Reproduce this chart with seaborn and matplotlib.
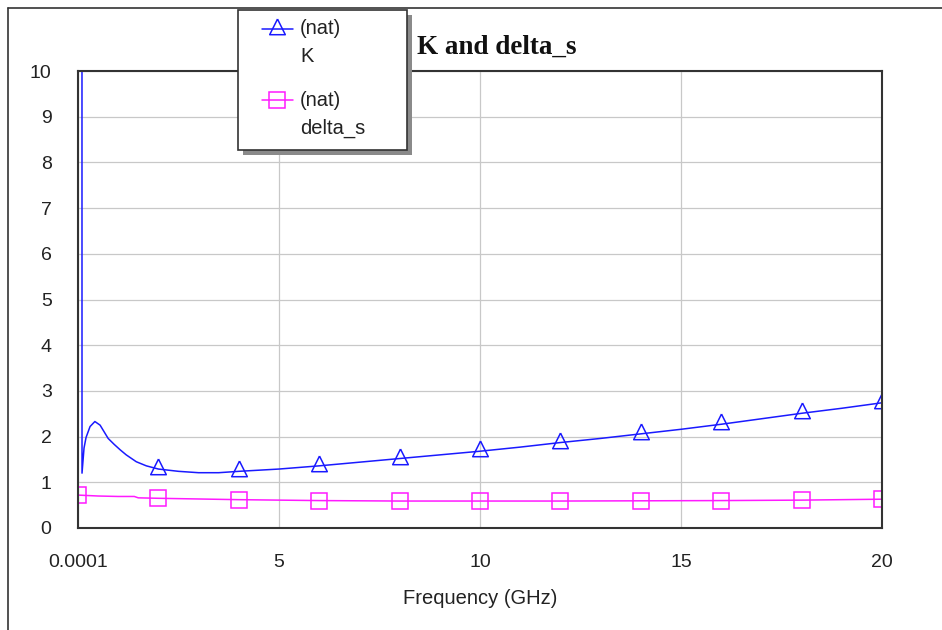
import numpy as np
import pandas as pd
import matplotlib
matplotlib.use("Agg")
import matplotlib.pyplot as plt
from matplotlib.lines import Line2D
from matplotlib.patches import Rectangle
import seaborn as sns

# Stability factor K versus frequency (GHz)
k_freq = [0.0001, 0.1, 0.15, 0.2, 0.3, 0.42, 0.55, 0.75, 0.9, 1.05, 1.2, 1.45,
          1.7, 2, 2.5, 3, 3.5, 4, 5, 6, 7, 8, 9, 10, 11, 12, 13, 14, 15, 16,
          17, 18, 19, 20]
k_vals = [1000, 1.2, 1.75, 1.98, 2.22, 2.33, 2.25, 1.96, 1.83, 1.71, 1.60, 1.45,
          1.36, 1.29, 1.24, 1.21, 1.21, 1.24, 1.29, 1.36, 1.44, 1.52, 1.60, 1.68,
          1.77, 1.87, 1.96, 2.06, 2.16, 2.27, 2.39, 2.51, 2.62, 2.74]

# delta_s versus frequency (GHz)
d_freq = [0.0001, 0.5, 1, 1.4, 1.5, 2, 3, 4, 5, 6, 8, 10, 12, 14, 16, 18, 19, 20]
d_vals = [0.72, 0.70, 0.69, 0.69, 0.66, 0.65, 0.635, 0.62, 0.61, 0.60, 0.59,
          0.59, 0.59, 0.595, 0.60, 0.61, 0.62, 0.63]

# Frequencies that carry a symbol on each trace
marker_freq = [0.0001, 2, 4, 6, 8, 10, 12, 14, 16, 18, 20]

x_ticks = [0.0001, 5, 10, 15, 20]
x_tick_labels = ["0.0001", "5", "10", "15", "20"]
y_ticks = list(range(0, 11))

title = "K and delta_s"
x_label = "Frequency (GHz)"

sns.set_style("white")
plt.rcParams["font.family"] = ["Liberation Sans", "DejaVu Sans"]

W, H = 942, 630
fig = plt.figure(figsize=(W / 100, H / 100), dpi=100)


def fx(px):
    return px / W


def fy(py):
    return 1 - py / H


ax = fig.add_axes([fx(78), fy(528), fx(882) - fx(78), fy(71) - fy(528)])

# Triangle with its centroid at the data point
tri = [(0, 2 / 3), (-0.5, -1 / 3), (0.5, -1 / 3), (0, 2 / 3)]

k_df = pd.DataFrame({"freq": k_freq, "K": k_vals})
d_df = pd.DataFrame({"freq": d_freq, "delta_s": d_vals})
k_marks = [i for i, f in enumerate(k_freq) if f in marker_freq]
d_marks = [i for i, f in enumerate(d_freq) if f in marker_freq]

blue = "#1a1aff"
magenta = "#ff1aff"
tri_size = 15
sq_size = 11

sns.lineplot(data=k_df, x="freq", y="K", ax=ax, color=blue, lw=1.1,
             marker=tri, markevery=k_marks, markersize=tri_size,
             markerfacecolor="none", markeredgecolor=blue,
             markeredgewidth=1.1, estimator=None, sort=False)
sns.lineplot(data=d_df, x="freq", y="delta_s", ax=ax, color=magenta, lw=1.1,
             marker="s", markevery=d_marks, markersize=sq_size,
             markerfacecolor="none", markeredgecolor=magenta,
             markeredgewidth=1.1, estimator=None, sort=False)

ax.set_xlim(0.0001, 20)
ax.set_ylim(0, 10)
ax.set_xticks(x_ticks)
ax.set_xticklabels(x_tick_labels)
ax.set_yticks(y_ticks)
ax.set_xlabel(x_label, fontsize=14.5, color="#222222", labelpad=13)
ax.set_ylabel("")
ax.tick_params(axis="both", length=0, labelsize=14, labelcolor="#222222")
ax.tick_params(axis="x", pad=19)
ax.tick_params(axis="y", pad=19)
ax.grid(True, color="#c8c8c8", lw=0.9)
ax.set_axisbelow(True)
for s in ax.spines.values():
    s.set_color("#333333")
    s.set_linewidth(1.5)

# Title
fig.text(fx(497), fy(47), title, ha="center", va="center",
         family=["Liberation Serif", "DejaVu Serif"], weight="bold",
         fontsize=19.5, color="#111111")

# Outer frame (top and left edges)
fig.add_artist(Line2D([fx(8), 1], [fy(7.5), fy(7.5)], transform=fig.transFigure,
                      color="#333333", lw=1.2))
fig.add_artist(Line2D([fx(8), fx(8)], [fy(7.5), 0], transform=fig.transFigure,
                      color="#333333", lw=1.2))

# Legend box with drop shadow
bx0, by0, bx1, by1 = 238, 10, 407, 150
fig.add_artist(Rectangle((fx(bx0 + 5), fy(by1 + 5)), fx(bx1 - bx0), fy(by0) - fy(by1),
                         transform=fig.transFigure, facecolor="#8a8a8a",
                         edgecolor="none", zorder=5))
fig.add_artist(Rectangle((fx(bx0), fy(by1)), fx(bx1 - bx0), fy(by0) - fy(by1),
                         transform=fig.transFigure, facecolor="white",
                         edgecolor="#333333", lw=1.2, zorder=6))

entries = [
    (29, ["(nat)", "K"], blue, tri, tri_size),
    (100, ["(nat)", "delta_s"], magenta, "s", sq_size),
]
for ly, lines_txt, col, mk, ms in entries:
    fig.add_artist(Line2D([fx(262), fx(293)], [fy(ly), fy(ly)], transform=fig.transFigure,
                          color=col, lw=1.1, zorder=7))
    fig.add_artist(Line2D([fx(277)], [fy(ly)], transform=fig.transFigure,
                          marker=mk, markersize=ms, markerfacecolor="none",
                          markeredgecolor=col, markeredgewidth=1.1, zorder=7))
    for j, t in enumerate(lines_txt):
        fig.text(fx(300), fy(ly + 28 * j), t, ha="left", va="center",
                 fontsize=14.5, color="#222222", zorder=8)

fig.savefig("out.png", dpi=100, facecolor="white")
